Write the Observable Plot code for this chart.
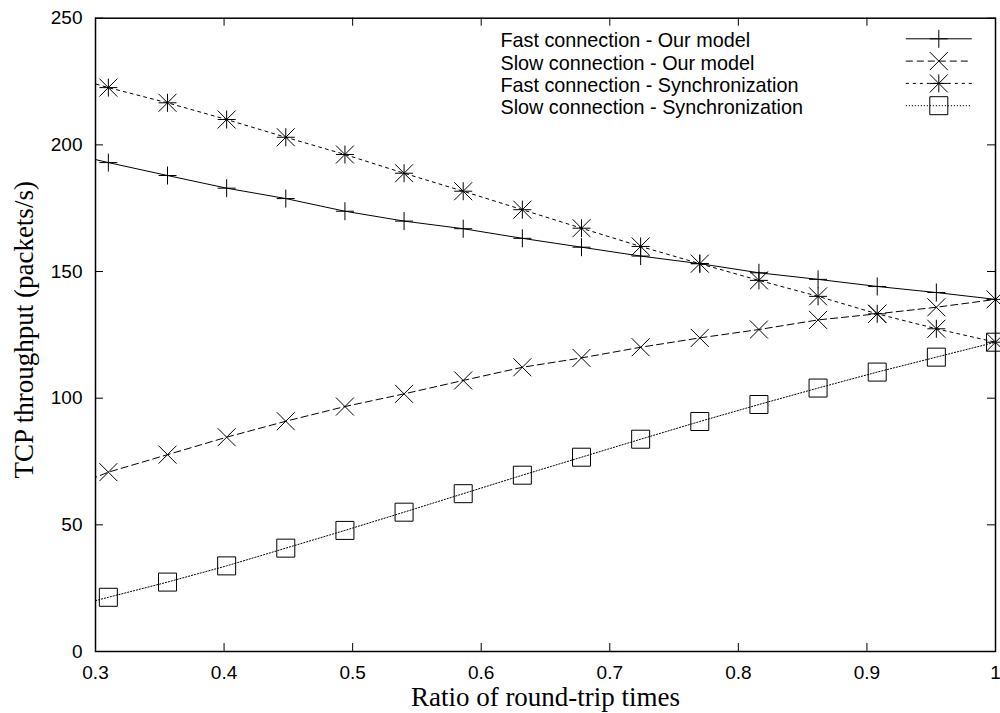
<!DOCTYPE html>
<html>
<head>
<meta charset="utf-8">
<script src="https://cdn.jsdelivr.net/npm/d3@7"></script>
<script src="https://cdn.jsdelivr.net/npm/@observablehq/plot@0.6"></script>
<style>
  html, body { margin: 0; padding: 0; background: #fff; }
  #chart svg { display: block; }
</style>
</head>
<body>
<div id="chart"></div>
<script>
// ---------------- data ----------------
// x = ratio of round-trip times (first point lies left of the visible range; its line segment is clipped)
const ratio = [0.264, 0.31, 0.356, 0.402, 0.448, 0.494, 0.54, 0.586, 0.632, 0.678, 0.724, 0.77, 0.816, 0.862, 0.908, 0.954, 1.0];
const fastModel = [198.5, 193.0, 187.9, 182.9, 178.8, 173.8, 169.9, 166.9, 163.1, 159.6, 156.1, 153.1, 149.5, 146.9, 144.1, 141.7, 139.0];
const slowModel = [61.5, 70.8, 77.7, 84.6, 90.9, 96.7, 101.7, 107.0, 112.2, 115.9, 120.1, 123.8, 127.1, 130.9, 133.3, 135.9, 139.0];
const fastSync = [229.3, 222.6, 216.6, 210.0, 203.0, 196.2, 188.8, 181.7, 174.4, 167.1, 159.9, 153.1, 146.5, 140.2, 133.3, 127.4, 122.1];
const slowSync = [15.3, 21.4, 27.4, 33.8, 40.8, 47.8, 55.0, 62.3, 69.6, 76.7, 83.8, 90.8, 97.5, 104.0, 110.3, 116.2, 122.1];

const seriesKeys = ["fastModel", "slowModel", "fastSync", "slowSync"];
const seriesNames = [
  "Fast connection - Our model",
  "Slow connection - Our model",
  "Fast connection - Synchronization",
  "Slow connection - Synchronization"
];

const xTicks = [0.3, 0.4, 0.5, 0.6, 0.7, 0.8, 0.9, 1.0];
const xTickLabels = ["0.3", "0.4", "0.5", "0.6", "0.7", "0.8", "0.9", "1"];
const yTicks = [0, 50, 100, 150, 200, 250];
const xLabel = "Ratio of round-trip times";
const yLabel = "TCP throughput (packets/s)";

// ---------------- layout & style ----------------
const W = 1000, H = 713;
const mL = 95, mR = 5, mT = 17.7, mB = 62;
const FW = W - mL - mR, FH = H - mT - mB;
const TICK = 8;
const sans = "'Liberation Sans', Arial, Helvetica, sans-serif";
const serif = "'Liberation Serif', 'Times New Roman', Times, serif";
const legendFont = 19.8;
const labelFont = 27;

const rows = ratio.map((x, i) => ({
  x,
  fastModel: fastModel[i],
  slowModel: slowModel[i],
  fastSync: fastSync[i],
  slowSync: slowSync[i]
}));

// gnuplot-like point symbols (size = PI r^2, so h = r)
const half = size => Math.sqrt(size / Math.PI);
const symPlus = {draw(c, s) { const h = half(s); c.moveTo(-h, 0); c.lineTo(h, 0); c.moveTo(0, -h); c.lineTo(0, h); }};
const symTimes = {draw(c, s) { const h = half(s); c.moveTo(-h, -h); c.lineTo(h, h); c.moveTo(-h, h); c.lineTo(h, -h); }};
const symStar = {draw(c, s) { const h = half(s); c.moveTo(-h, 0); c.lineTo(h, 0); c.moveTo(0, -h); c.lineTo(0, h); c.moveTo(-h, -h); c.lineTo(h, h); c.moveTo(-h, h); c.lineTo(h, -h); }};
const symSquare = {draw(c, s) { const h = half(s); c.moveTo(-h, -h); c.lineTo(h, -h); c.lineTo(h, h); c.lineTo(-h, h); c.closePath(); }};
const symHLine = {draw(c, s) { const h = half(s); c.moveTo(-h, 0); c.lineTo(h, 0); }};

const styles = {
  fastModel: {dash: null, symbol: symPlus, r: 9},
  slowModel: {dash: "7,4", symbol: symTimes, r: 9},
  fastSync: {dash: "3,4", symbol: symStar, r: 9},
  slowSync: {dash: "1.2,1.8", symbol: symSquare, r: 9}
};

const marks = [];

// inward ticks on all four sides (gnuplot mirror ticks)
marks.push(Plot.tickX(xTicks, {x: d => d, insetTop: FH - TICK, stroke: "black", strokeWidth: 1}));
marks.push(Plot.tickX(xTicks, {x: d => d, insetBottom: FH - TICK, stroke: "black", strokeWidth: 1}));
marks.push(Plot.tickY(yTicks, {y: d => d, insetRight: FW - TICK, stroke: "black", strokeWidth: 1}));
marks.push(Plot.tickY(yTicks, {y: d => d, insetLeft: FW - TICK, stroke: "black", strokeWidth: 1}));

// series
seriesKeys.forEach(k => {
  const st = styles[k];
  marks.push(Plot.line(rows, {x: "x", y: k, stroke: "black", strokeWidth: 1, strokeDasharray: st.dash, clip: true}));
  marks.push(Plot.dot(rows, {filter: d => d.x >= 0.3, x: "x", y: k, symbol: st.symbol, r: st.r, fill: "none", stroke: "black", strokeWidth: 1}));
});

// legend (inside the frame, top right)
marks.push(Plot.text([seriesNames.join("\n")], {
  text: d => d, frameAnchor: "top-left", textAnchor: "start", lineAnchor: "top",
  dx: 405, dy: 13.2, lineHeight: 22.3 / legendFont, fontSize: legendFont, fontFamily: sans, fill: "black"
}));
seriesKeys.forEach((k, i) => {
  const st = styles[k];
  const dy = 20.6 + 22.3 * i;
  marks.push(Plot.dot([k], {frameAnchor: "top-right", dx: -56.7, dy, symbol: symHLine, r: 33, fill: "none", stroke: "black", strokeWidth: 1, strokeDasharray: st.dash}));
  marks.push(Plot.dot([k], {frameAnchor: "top-right", dx: -56.7, dy, symbol: st.symbol, r: st.r, fill: "none", stroke: "black", strokeWidth: 1}));
});

// axis titles
marks.push(Plot.text([xLabel], {text: d => d, frameAnchor: "bottom", textAnchor: "middle", lineAnchor: "bottom", dy: 54, fontSize: labelFont, fontFamily: serif, fill: "black"}));
marks.push(Plot.text([yLabel], {text: d => d, frameAnchor: "left", textAnchor: "middle", lineAnchor: "middle", dx: -71, dy: -5, rotate: -90, fontSize: labelFont, fontFamily: serif, fill: "black"}));

// border
marks.push(Plot.frame({stroke: "black", strokeWidth: 1.5}));

const chart = Plot.plot({
  width: W, height: H,
  marginLeft: mL, marginRight: mR, marginTop: mT, marginBottom: mB,
  style: {fontFamily: sans, fontSize: "19px", background: "white", color: "black"},
  x: {domain: [0.3, 1.0], ticks: xTicks, tickFormat: d => xTickLabels[xTicks.indexOf(d)], tickSize: 0, tickPadding: 13.5, label: null},
  y: {domain: [0, 250], ticks: yTicks, tickSize: 0, tickPadding: 13, label: null},
  marks
});
document.getElementById("chart").appendChild(chart);
</script>
</body>
</html>
